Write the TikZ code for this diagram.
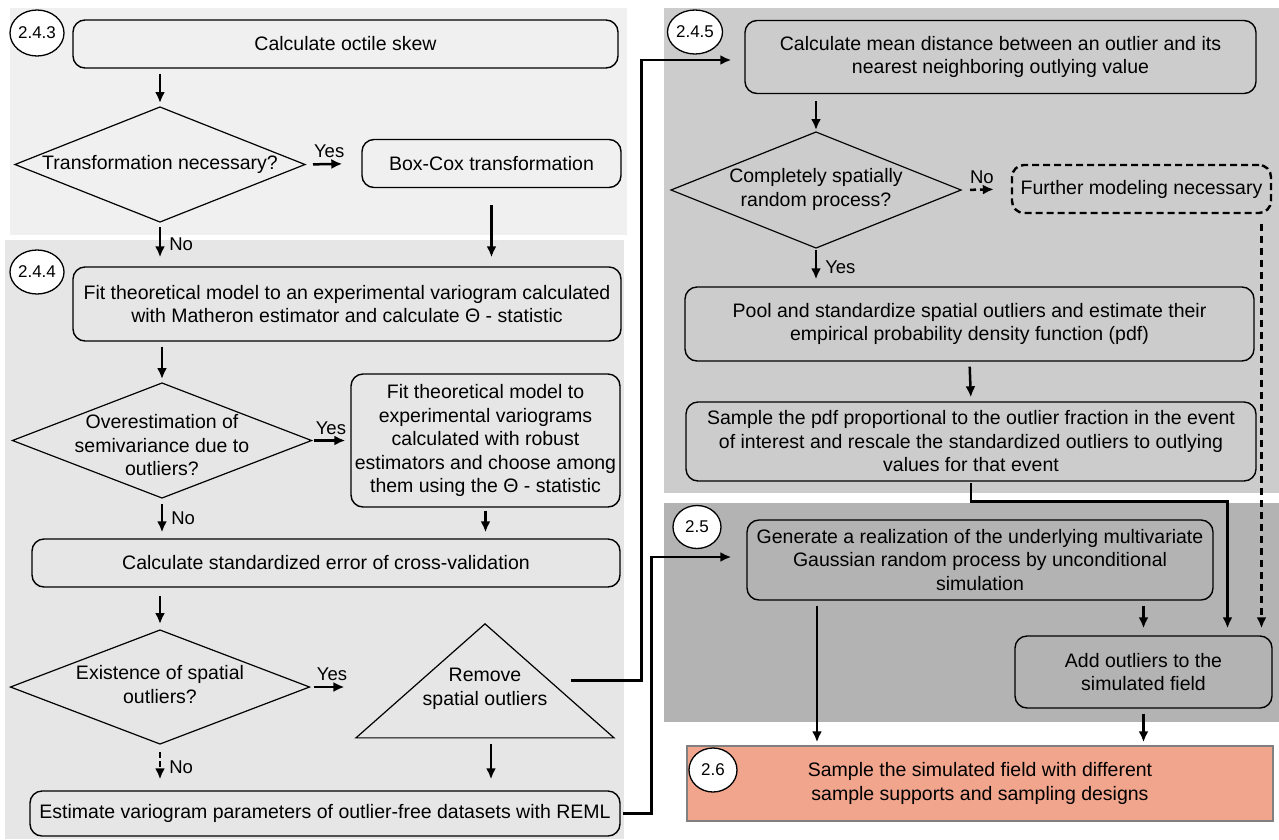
\documentclass[tikz,border=0pt]{standalone}
\usepackage{fontspec}
\setmainfont{Liberation Sans}
\usetikzlibrary{shapes.geometric,arrows.meta,shapes}
\definecolor{pale}{RGB}{240,240,240}
\definecolor{light}{RGB}{230,230,230}
\definecolor{mid}{RGB}{204,204,204}
\definecolor{dark}{RGB}{179,179,179}
\definecolor{salmon}{RGB}{240,165,140}
\tikzstyle{box} = [rectangle, rounded corners=12pt, draw=black, line width=1.4pt, align=center, inner sep=0pt]
\tikzstyle{decision} = [diamond, draw=black, line width=1.2pt, inner sep=0pt, outer sep=0pt]
\tikzstyle{tag} = [ellipse, draw=black, fill=white, line width=1.3pt, inner sep=0pt, font=\fontsize{17}{20}\selectfont]
\tikzstyle{flow} = [line width=2.5pt, ->, shorten <=5pt, shorten >=4pt]
\tikzstyle{yesno} = [font=\fontsize{18.5}{21}\selectfont, inner sep=2pt]
% text of a decision, kept out of the shape size
\newcommand{\dtext}[2][-5pt]{\smash{\makebox[0pt]{\raisebox{#1}{\begin{tabular}{@{}c@{}}#2\end{tabular}}}}}

\begin{document}
\begin{tikzpicture}[x=1pt,y=-1pt,font=\fontsize{19.5}{23.5}\selectfont]
    \tikzset{>={Latex[length=11pt,width=10pt]}}
    \useasboundingbox (0,0) rectangle (1279,839);

    % panels
    \fill[pale] (10,8) rectangle (627,235);
    \fill[light] (5,240) rectangle (624,839);
    \fill[mid] (664,8) rectangle (1279,493);
    \fill[dark] (664,503) rectangle (1279,722);

    % 2.4.3
    \node[tag, minimum width=54, minimum height=46] (t243) at (37,33) {2.4.3};
    \node[box, minimum width=545, minimum height=48] (skew) at (345.5,44) {Calculate octile skew};
    \node[decision, minimum width=290, minimum height=115] (trans) at (160,164.5) {\dtext{Transformation necessary?}};
    \node[box, minimum width=259, minimum height=48] (boxcox) at (491.5,163.5) {Box-Cox transformation};

    % 2.4.4
    \node[tag, minimum width=54, minimum height=44] (t244) at (37,272) {2.4.4};
    \node[box, minimum width=548, minimum height=74] (fitmat) at (347,304) {Fit theoretical model to an experimental variogram calculated\\with Matheron estimator and calculate Θ - statistic};
    \node[decision, minimum width=299, minimum height=115] (overest) at (162,440.5) {\dtext[-12pt]{Overestimation of\\semivariance due to\\outliers?}};
    \node[box, minimum width=269, minimum height=133] (fitrob) at (485.5,440.5) {Fit theoretical model to\\experimental variograms\\calculated with robust\\estimators and choose among\\them using the Θ - statistic};
    \node[box, minimum width=588, minimum height=48] (crossval) at (326,563) {Calculate standardized error of cross-validation};
    \node[decision, minimum width=299, minimum height=114] (exist) at (160,687) {\dtext{Existence of spatial\\outliers?}};
    \node[isosceles triangle, isosceles triangle stretches, shape border rotate=90, draw=black, line width=1.2pt, inner sep=0pt, minimum width=258, minimum height=114] (remove) at (485,689) {\dtext{Remove\\spatial outliers}};
    \node[box, minimum width=590, minimum height=45] (reml) at (325,813.5) {Estimate variogram parameters of outlier-free datasets with REML};

    % 2.4.5
    \node[tag, minimum width=55, minimum height=44] (t245) at (695,32) {2.4.5};
    \node[box, minimum width=511, minimum height=73] (meandist) at (1000.5,57) {Calculate mean distance between an outlier and its\\nearest neighboring outlying value};
    \node[decision, minimum width=290, minimum height=116] (csr) at (816,190) {\dtext{Completely spatially\\random process?}};
    \node[box, dashed, dash pattern=on 7pt off 4pt, line width=2.4pt, minimum width=259, minimum height=48] (further) at (1141.5,189) {Further modeling necessary};
    \node[box, minimum width=569, minimum height=74] (pool) at (969.5,324) {Pool and standardize spatial outliers and estimate their\\empirical probability density function (pdf)};
    \node[box, minimum width=570, minimum height=79] (samplepdf) at (971,441.5) {Sample the pdf proportional to the outlier fraction in the event\\of interest and rescale the standardized outliers to outlying\\values for that event};

    % 2.5
    \node[tag, minimum width=48, minimum height=43] (t25) at (697,527) {2.5};
    \node[box, minimum width=466, minimum height=80] (generate) at (980,560) {Generate a realization of the underlying multivariate\\Gaussian random process by unconditional\\simulation};
    \node[box, minimum width=257, minimum height=72] (addout) at (1143.5,672) {Add outliers to the\\simulated field};

    % 2.6
    \node[rectangle, draw=gray, fill=salmon, line width=1.5pt, align=center, inner sep=0pt, minimum width=586, minimum height=75] (sample) at (980,783.5) {Sample the simulated field with different\\sample supports and sampling designs};
    \node[tag, minimum width=48, minimum height=44] (t26) at (713,770) {2.6};

    % connectors, left
    \draw[flow] (skew.south -| trans.north) -- (trans.north);
    \draw[flow, shorten <=8pt, shorten >=19pt] (trans.east) -- (boxcox.west) node[yesno, midway, above=3pt, xshift=-4pt] {Yes};
    \draw[flow, shorten <=17pt, shorten >=9pt] (boxcox.south) -- (boxcox.south |- fitmat.north);
    \draw[flow, shorten >=9pt] (trans.south) -- (trans.south |- fitmat.north) node[yesno, midway, right=6pt] {No};
    \draw[flow] (fitmat.south -| overest.north) -- (overest.north);
    \draw[flow, shorten <=2pt, shorten >=5pt] (overest.east) -- (overest.east -| fitrob.west) node[yesno, midway, above=3pt] {Yes};
    \draw[flow, shorten <=6pt, shorten >=6pt] (overest.south) -- (overest.south |- crossval.north) node[yesno, midway, right=6pt] {No};
    \draw[flow, shorten <=3pt, shorten >=6pt] (fitrob.south) -- (fitrob.south |- crossval.north);
    \draw[flow, shorten <=8pt, shorten >=6pt] (crossval.south -| exist.north) -- (exist.north);
    \draw[flow, shorten <=4pt, shorten >=10pt] (exist.east) -- (exist.east -| remove.left corner) node[yesno, midway, above=3pt] {Yes};
    \draw[flow, dashed, dash pattern=on 6pt off 3pt, shorten <=8pt, shorten >=11pt] (exist.south) -- (exist.south |- reml.north) node[yesno, midway, right=6pt] {No};
    \draw[flow, shorten <=6pt, shorten >=11pt] ([xshift=6pt]remove.lower side) -- ([xshift=6pt]remove.lower side |- reml.north);
    \draw[flow, shorten <=21pt, shorten >=13pt] (remove.right side) -- ++(91,0) |- ([yshift=-3pt]meandist.west);
    \draw[flow, shorten <=2pt, shorten >=15pt] (reml.east) -- ++(31,0) |- ([yshift=3pt]generate.west);

    % connectors, right
    \draw[flow, shorten <=7pt, shorten >=2pt] (meandist.south -| csr.north) -- (csr.north);
    \draw[flow, dashed, dash pattern=on 6pt off 4pt, shorten <=9pt, shorten >=17pt] (csr.east) -- (further.west) node[yesno, midway, above=3pt, xshift=-4pt] {No};
    \draw[flow, shorten <=2pt, shorten >=7pt] (csr.south) -- (csr.south |- pool.north) node[yesno, midway, right=6pt] {Yes};
    \draw[flow] (pool.south) -- (samplepdf.north);
    \draw[flow, shorten <=1pt, shorten >=7pt] (samplepdf.south) -- ++(0,20) -| ([xshift=84pt]addout.north);
    \draw[flow, dashed, dash pattern=on 7pt off 5pt, shorten <=10pt, shorten >=7pt] ([xshift=120pt]further.south) -- ([xshift=120pt]further.south |- addout.north);
    \draw[flow, shorten >=7pt] (generate.south -| addout.north) -- (addout.north);
    \draw[flow, shorten >=3pt] ([xshift=-163pt]generate.south) -- ([xshift=-163pt]generate.south |- sample.north);
    \draw[flow, shorten >=3pt] (addout.south) -- (addout.south |- sample.north);
\end{tikzpicture}
\end{document}
